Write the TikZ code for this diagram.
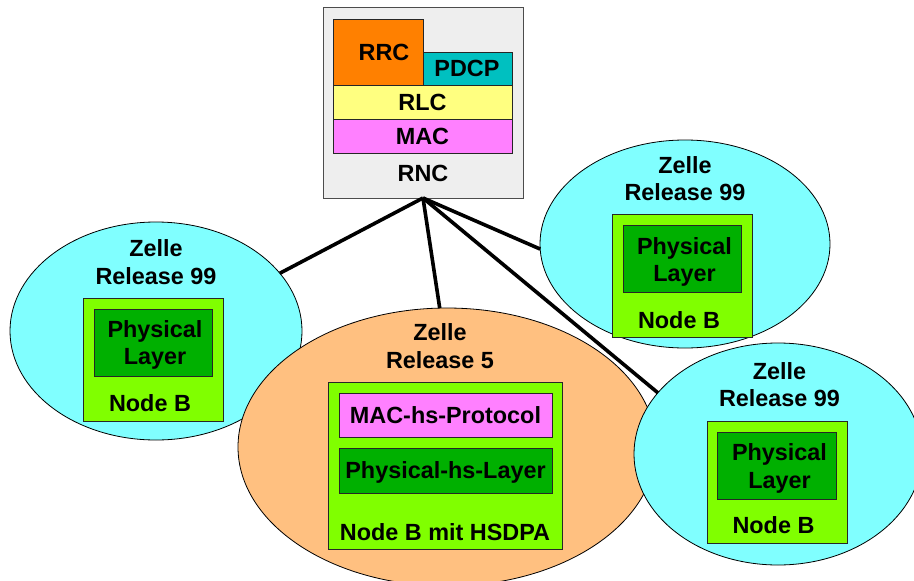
\documentclass[tikz,border=0pt]{standalone}
\usepackage{fontspec}
\setmainfont{Liberation Sans}
\usetikzlibrary{shapes.geometric}
\definecolor{cellcyan}{HTML}{80FFFF}
\definecolor{cellorange}{HTML}{FFC080}
\definecolor{nodegreen}{HTML}{80FF00}
\definecolor{phygreen}{HTML}{00B000}
\definecolor{rrcorange}{HTML}{FF8000}
\definecolor{pdcpteal}{HTML}{00C0C0}
\definecolor{rlcyellow}{HTML}{FFFF80}
\definecolor{macpink}{HTML}{FF80FF}
\definecolor{rncgray}{HTML}{EEEEEE}
\begin{document}
\begin{tikzpicture}[x=1pt,y=-1pt,
  every node/.style={font=\fontsize{23.4}{27.5}\selectfont\bfseries, inner sep=0pt, outer sep=0pt, align=center},
  cell/.style={ellipse, draw=black, line width=0.8pt},
  box/.style={rectangle, draw=black!85, line width=0.8pt},
  lbl/.style={text height=16.7pt, text depth=0pt},
  link/.style={line width=3.6pt, black}
]
\useasboundingbox (0,0) rectangle (914,581);
\fill[white] (0,0) rectangle (914,581);

% RNC
\node[box, draw=black!70, fill=rncgray, minimum width=200pt, minimum height=191pt] (rnc) at (423,102.5) {};
\node[box, fill=rrcorange, minimum width=90pt, minimum height=66pt] (rrc) at (378,52) {};
\node[lbl] (rrct) at (384,52) {RRC};
\node[box, fill=pdcpteal, minimum width=89pt, minimum height=33pt] (pdcp) at (467.5,68.5) {};
\node[lbl] (pdcpt) at (467,68.5) {PDCP};
\node[box, fill=rlcyellow, minimum width=179pt, minimum height=34pt] (rlc) at (422.5,102) {};
\node[lbl] (rlct) at (422.5,102) {RLC};
\node[box, fill=macpink, minimum width=179pt, minimum height=34pt] (mac) at (422.5,136) {};
\node[lbl] (mact) at (422.5,136) {MAC};
\node[lbl] (rnct) at (423,173) {RNC};

% left cell
\node[cell, fill=cellcyan, minimum width=292pt, minimum height=218pt] (l) at (156,331) {};
\node (lt) at (156,262) {Zelle\\Release 99};
\node[box, fill=nodegreen, minimum width=140pt, minimum height=123pt] (lnb) at (153,359.5) {};
\node[box, fill=phygreen, minimum width=118pt, minimum height=67pt] (lph) at (153,342.5) {};
\node (lpht) at (155,345) {Physical\\Layer};
\node[lbl] (lnbt) at (150,403) {Node B};

% middle cell
\node[cell, fill=cellorange, minimum width=418pt, minimum height=278pt] (m) at (447,447) {};
\node (mt) at (440,346) {Zelle\\Release 5};
\node[box, fill=nodegreen, minimum width=234pt, minimum height=167pt] (mnb) at (445,465.5) {};
\node[box, fill=macpink, minimum width=213pt, minimum height=44pt] (mmac) at (445.5,415) {};
\node[lbl] (mmact) at (445.5,415) {MAC-hs-Protocol};
\node[box, fill=phygreen, minimum width=213pt, minimum height=45pt] (mph) at (445.5,470.5) {};
\node[lbl] (mpht) at (445.5,470.5) {Physical-hs-Layer};
\node[lbl] (mnbt) at (445,532) {Node B mit HSDPA};

% top right cell
\node[cell, fill=cellcyan, minimum width=290pt, minimum height=208pt] (tr) at (685,244) {};
\node (trt) at (685,178.5) {Zelle\\Release 99};
\node[box, fill=nodegreen, minimum width=140pt, minimum height=123pt] (trnb) at (682,275.5) {};
\node[box, fill=phygreen, minimum width=118pt, minimum height=67pt] (trph) at (682,258.5) {};
\node (trpht) at (684.5,262) {Physical\\Layer};
\node[lbl] (trnbt) at (679,320) {Node B};

% lower right cell
\node[cell, fill=cellcyan, minimum width=288pt, minimum height=222pt] (lr) at (778,454) {};
\node (lrt) at (779.5,384.5) {Zelle\\Release 99};
\node[box, fill=nodegreen, minimum width=140pt, minimum height=122pt] (lrnb) at (777,482) {};
\node[box, fill=phygreen, minimum width=119pt, minimum height=67pt] (lrph) at (776.5,465.5) {};
\node (lrpht) at (779.5,468.5) {Physical\\Layer};
\node[lbl] (lrnbt) at (773.5,525) {Node B};

% links
\draw[link] (rnc.south) -- (l.25);
\draw[link] (rnc.south) -- (m.93);
\draw[link] (rnc.south) -- (tr.182);
\draw[link] (rnc.south) -- (lr.153);
\end{tikzpicture}
\end{document}
